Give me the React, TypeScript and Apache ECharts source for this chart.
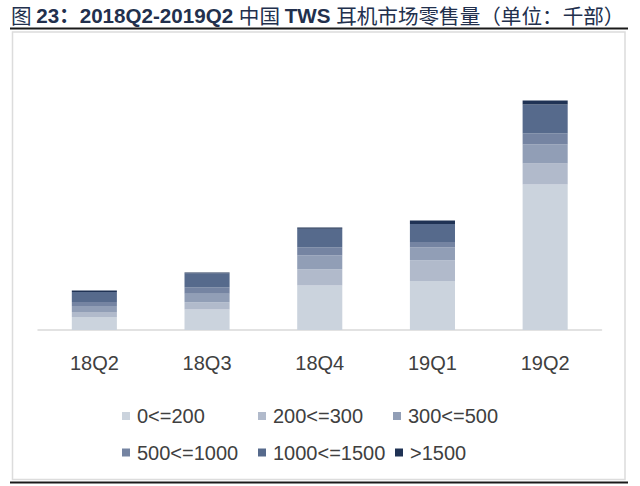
import React, { useEffect, useRef } from "react";
import * as echarts from "echarts";

const categories = ["18Q2", "18Q3", "18Q4", "19Q1", "19Q2"];
const seriesNames = ["0<=200", "200<=300", "300<=500", "500<=1000", "1000<=1500", ">1500"];
const s0to200 = [325, 510, 1110, 1225, 3640];
const s200to300 = [125, 185, 410, 520, 520];
const s300to500 = [150, 210, 350, 320, 480];
const s500to1000 = [100, 165, 200, 135, 270];
const s1000to1500 = [250, 350, 460, 450, 730];
const sOver1500 = [35, 15, 35, 85, 100];
const seriesValues = [s0to200, s200to300, s300to500, s500to1000, s1000to1500, sOver1500];
const colors = ["#cbd3dd", "#b1bacb", "#919eb6", "#7584a2", "#566a8c", "#1f3254"];

const legendPos = [
  [122, 406],
  [258, 406],
  [393, 406],
  [122, 442.5],
  [258, 442.5],
  [395, 442.5],
];

export default function App() {
  const ref = useRef<HTMLDivElement>(null);
  useEffect(() => {
    document.body.style.margin = "0";
    if (!ref.current) return;
    const chart = echarts.init(ref.current, null, { renderer: "svg" });
    const latin = "'Liberation Sans', Arial, 'Noto Sans CJK SC', sans-serif";
    const cjk = "'Noto Sans CJK SC', sans-serif";
    chart.setOption({
      animation: false,
      backgroundColor: "#ffffff",
      title: {
        left: 11,
        top: 5,
        padding: 0,
        text: "{c|图 }{b|23：2018Q2-2019Q2 }{c|中国 }{b|TWS }{c|耳机市场零售量（单位：千部）}",
        textStyle: {
          rich: {
            b: { fontFamily: latin, fontWeight: "bold", fontSize: 20.6, color: "#22304d" },
            c: { fontFamily: cjk, fontWeight: "normal", fontSize: 20.6, color: "#22304d" },
          },
        },
      },
      graphic: [
        { type: "line", shape: { x1: 10, y1: 28.5, x2: 628, y2: 28.5 }, style: { stroke: "#1a1a1a", lineWidth: 2 } },
        { type: "rect", shape: { x: 12.5, y: 32, width: 612.5, height: 447.5 }, style: { fill: "none", stroke: "#dcdcdc", lineWidth: 1.5 } },
        { type: "line", shape: { x1: 10, y1: 482.5, x2: 628, y2: 482.5 }, style: { stroke: "#1a1a1a", lineWidth: 2 } },
      ],
      legend: seriesNames.map((n, i) => ({
        data: [n],
        left: legendPos[i][0],
        top: legendPos[i][1],
        padding: 0,
        itemWidth: 8,
        itemHeight: 8,
        itemGap: 0,
        icon: "rect",
        selectedMode: false,
        textStyle: { fontSize: 20, color: "#404040", fontFamily: latin, padding: [0, 0, 0, 2] },
      })),
      grid: { left: 38, top: 50, width: 563.5, height: 280 },
      xAxis: {
        type: "category",
        data: categories,
        axisLine: { lineStyle: { color: "#d9d9d9", width: 1.5 } },
        axisTick: { show: false },
        axisLabel: { fontSize: 20, color: "#404040", fontFamily: latin, margin: 23 },
      },
      yAxis: { type: "value", min: 0, max: 7000, show: false, splitLine: { show: false } },
      series: seriesNames.map((n, i) => ({
        name: n,
        type: "bar",
        stack: "total",
        barWidth: "40%",
        itemStyle: { color: colors[i] },
        data: seriesValues[i],
      })),
    });
    return () => chart.dispose();
  }, []);
  return <div ref={ref} style={{ width: 640, height: 486 }} />;
}
